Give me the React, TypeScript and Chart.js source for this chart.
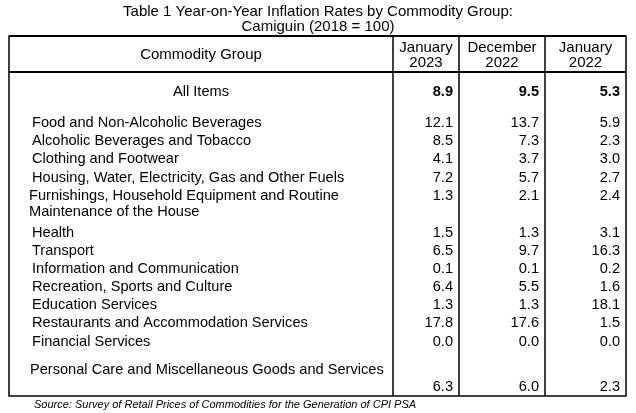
import React, { useEffect, useRef } from "react";
import { Chart, registerables } from "chart.js";

Chart.register(...registerables);

const titleLines = [
  "Table 1 Year-on-Year Inflation Rates by Commodity Group:",
  "Camiguin (2018 = 100)",
];
const headerLabel = "Commodity Group";
const periodHeaders = [
  ["January", "2023"],
  ["December", "2022"],
  ["January", "2022"],
];
const allItemsLabel = "All Items";
const allItemsValues = ["8.9", "9.5", "5.3"];
const categories = [
  ["Food and Non-Alcoholic Beverages"],
  ["Alcoholic Beverages and Tobacco"],
  ["Clothing and Footwear"],
  ["Housing, Water, Electricity, Gas and Other Fuels"],
  ["Furnishings, Household Equipment and Routine", "Maintenance of the House"],
  ["Health"],
  ["Transport"],
  ["Information and Communication"],
  ["Recreation, Sports and Culture"],
  ["Education Services"],
  ["Restaurants and Accommodation Services"],
  ["Financial Services"],
  ["Personal Care and Miscellaneous Goods and Services"],
];
const jan2023 = ["12.1", "8.5", "4.1", "7.2", "1.3", "1.5", "6.5", "0.1", "6.4", "1.3", "17.8", "0.0", "6.3"];
const dec2022 = ["13.7", "7.3", "3.7", "5.7", "2.1", "1.3", "9.7", "0.1", "5.5", "1.3", "17.6", "0.0", "6.0"];
const jan2022 = ["5.9", "2.3", "3.0", "2.7", "2.4", "3.1", "16.3", "0.2", "1.6", "18.1", "1.5", "0.0", "2.3"];
const sourceNote = "Source: Survey of Retail Prices of Commodities for the Generation of CPI PSA";

const NARROW = '"Liberation Sans Narrow", "Arial Narrow", "Liberation Sans", Arial, sans-serif';
const SANS = '"Liberation Sans", Arial, sans-serif';

const tablePlugin = {
  id: "tableDraw",
  afterDraw(chart: any) {
    const ctx = chart.ctx as CanvasRenderingContext2D;
    const sx = chart.scales.x;
    const sy = chart.scales.y;
    const X = (v: number) => sx.getPixelForValue(v);
    const Y = (v: number) => sy.getPixelForValue(v);
    ctx.save();
    ctx.fillStyle = "#ffffff";
    ctx.fillRect(0, 0, chart.width, chart.height);
    ctx.fillStyle = "#000";
    ctx.strokeStyle = "#000";
    ctx.textBaseline = "middle";

    // title
    ctx.font = `15px ${NARROW}`;
    ctx.textAlign = "center";
    ctx.fillText(titleLines[0], X(318), Y(12));
    ctx.fillText(titleLines[1], X(318), Y(27));

    const left = 9, right = 626, top = 36, sep = 72, bottom = 396;
    const colLines = [393, 459, 545];
    const colRights = [colLines[1], colLines[2], right];

    const hline = (y: number, w: number) => {
      ctx.lineWidth = w;
      ctx.beginPath();
      ctx.moveTo(X(left) - 0.5, Y(y));
      ctx.lineTo(X(right) + 0.5, Y(y));
      ctx.stroke();
    };
    const vline = (x: number, w: number) => {
      ctx.lineWidth = w;
      ctx.beginPath();
      ctx.moveTo(X(x), Y(top));
      ctx.lineTo(X(x), Y(bottom));
      ctx.stroke();
    };
    hline(top, 2);
    hline(sep, 2);
    hline(bottom, 1.5);
    vline(left, 1.5);
    vline(right, 1.5);
    colLines.forEach((c) => vline(c, 1.5));

    // header
    ctx.font = `15px ${NARROW}`;
    ctx.textAlign = "center";
    ctx.fillText(headerLabel, X((left + colLines[0]) / 2), Y(55));
    periodHeaders.forEach((h, i) => {
      const l = colLines[i];
      const r = colRights[i];
      const cx = X((l + r) / 2);
      ctx.fillText(h[0], cx, Y(48));
      ctx.fillText(h[1], cx, Y(63));
    });

    const FS = 14.6;
    // All items
    ctx.font = `${FS}px ${SANS}`;
    ctx.textAlign = "center";
    ctx.fillText(allItemsLabel, X(201), Y(92));
    ctx.font = `bold ${FS}px ${SANS}`;
    ctx.textAlign = "right";
    allItemsValues.forEach((v, i) => ctx.fillText(v, X(colRights[i] - 6), Y(92)));

    // rows
    const rowY = [123, 141, 159, 178, 196, 233, 251, 269, 287, 305, 323, 342, 370];
    const valueYOffset = [0, 0, 0, 0, 0, 0, 0, 0, 0, 0, 0, 0, 17];
    const labelX = [32, 32, 32, 32, 29, 32, 32, 32, 32, 32, 32, 32, 30];
    categories.forEach((lines, i) => {
      ctx.font = `${FS}px ${SANS}`;
      ctx.textAlign = "left";
      lines.forEach((t, j) => ctx.fillText(t, X(labelX[i]), Y(rowY[i] + j * 16)));
      ctx.textAlign = "right";
      const vy = Y(rowY[i] + valueYOffset[i]);
      [jan2023, dec2022, jan2022].forEach((arr, k) => {
        ctx.fillText(arr[i], X(colRights[k] - 6), vy);
      });
    });

    // source
    ctx.font = `italic 11px ${SANS}`;
    ctx.textAlign = "left";
    ctx.fillText(sourceNote, X(34), Y(405));
    ctx.restore();
  },
};

export default function App() {
  const ref = useRef<HTMLCanvasElement | null>(null);
  useEffect(() => {
    document.body.style.margin = "0";
    if (!ref.current) return;
    const chart = new Chart(ref.current, {
      type: "scatter",
      data: { datasets: [{ data: [], pointRadius: 0 }] },
      options: {
        animation: false,
        responsive: false,
        layout: { padding: 0 },
        plugins: { legend: { display: false }, tooltip: { enabled: false }, title: { display: false } },
        scales: {
          x: { type: "linear", min: 0, max: 636, display: false },
          y: { type: "linear", min: 0, max: 413, reverse: true, display: false },
        },
      },
      plugins: [tablePlugin],
    });
    return () => chart.destroy();
  }, []);
  return (
    <div style={{ width: 636, height: 413, position: "relative", background: "#fff" }}>
      <canvas ref={ref} width={636} height={413} style={{ display: "block" }} />
    </div>
  );
}
